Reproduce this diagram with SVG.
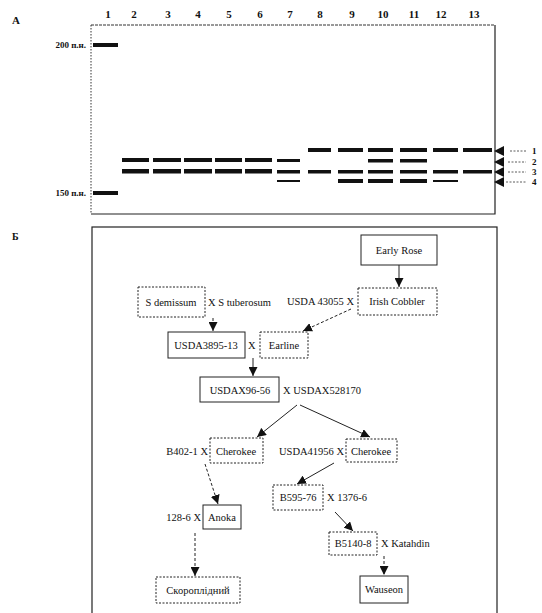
<svg xmlns="http://www.w3.org/2000/svg" width="542" height="613" viewBox="0 0 542 613">
<style>
text{font-family:"Liberation Serif","DejaVu Serif",serif;fill:#111}
.ln{font-size:11px;font-weight:bold;text-anchor:middle}
.mk{font-size:9px;font-weight:bold;text-anchor:end}
.band{fill:#111}
.nb{fill:#fff;stroke:#222;stroke-width:1}
.nd{fill:#fff;stroke:#222;stroke-width:1;stroke-dasharray:2 1.5}
.nt{font-size:10.5px;text-anchor:middle}
.lt{font-size:10.5px}
.c{stroke:#222;stroke-width:1;fill:none}
.cd{stroke:#222;stroke-width:1;fill:none;stroke-dasharray:3 2}
</style>
<defs>
<marker id="ah" viewBox="0 0 10 10" refX="10" refY="5" markerWidth="9" markerHeight="9" markerUnits="userSpaceOnUse" orient="auto">
<path d="M0,0 L10,5 L0,10 z" fill="#111"/>
</marker>
</defs>
<rect width="542" height="613" fill="#fff"/>

<g id="gel">
<text x="12" y="24" style="font-size:11px;font-weight:bold">А</text>
<g class="ln">
<text x="108" y="18" class="ln">1</text><text x="134" y="18" class="ln">2</text><text x="168" y="18" class="ln">3</text>
<text x="198" y="18" class="ln">4</text><text x="229" y="18" class="ln">5</text><text x="260" y="18" class="ln">6</text>
<text x="290" y="18" class="ln">7</text><text x="320" y="18" class="ln">8</text><text x="352" y="18" class="ln">9</text>
<text x="383" y="18" class="ln">10</text><text x="414" y="18" class="ln">11</text><text x="441" y="18" class="ln">12</text>
<text x="474" y="18" class="ln">13</text>
</g>
<path d="M91,25 H495" stroke="#333" stroke-width="1" stroke-dasharray="3 1"/>
<path d="M91,25 V214" stroke="#333" stroke-width="1" stroke-dasharray="1.5 1.5"/>
<path d="M495,25 V214 H91" stroke="#222" stroke-width="1.2" fill="none"/>
<text x="86" y="48" class="mk">200 п.н.</text>
<text x="86" y="196" class="mk">150 п.н.</text>
<rect class="band" x="93" y="43" width="25" height="4"/>
<rect class="band" x="93" y="191" width="25" height="4"/>
<!-- row 1 y=150 -->
<rect class="band" x="308" y="148" width="23" height="4"/>
<rect class="band" x="338" y="148" width="25" height="4"/>
<rect class="band" x="368" y="148" width="25" height="4"/>
<rect class="band" x="400" y="148" width="27" height="4"/>
<rect class="band" x="433" y="148" width="25" height="4"/>
<rect class="band" x="463" y="148" width="29" height="4"/>
<!-- row 2 y=161 -->
<rect class="band" x="122" y="158" width="27" height="4"/>
<rect class="band" x="153" y="158" width="28" height="4"/>
<rect class="band" x="184" y="158" width="28" height="4"/>
<rect class="band" x="215" y="158" width="27" height="4"/>
<rect class="band" x="245" y="158" width="27" height="4"/>
<rect class="band" x="277" y="159" width="23" height="3"/>
<rect class="band" x="368" y="159" width="25" height="3.5"/>
<rect class="band" x="400" y="159" width="27" height="3.5"/>
<!-- row 3 y=171 -->
<rect class="band" x="122" y="169" width="27" height="4.5"/>
<rect class="band" x="153" y="169" width="28" height="4.5"/>
<rect class="band" x="184" y="169" width="28" height="4.5"/>
<rect class="band" x="215" y="169" width="27" height="4.5"/>
<rect class="band" x="245" y="169" width="27" height="4.5"/>
<rect class="band" x="277" y="170" width="23" height="3.5"/>
<rect class="band" x="308" y="170" width="23" height="3.5"/>
<rect class="band" x="338" y="170" width="25" height="3.5"/>
<rect class="band" x="368" y="170" width="25" height="3.5"/>
<rect class="band" x="400" y="170" width="27" height="3.5"/>
<rect class="band" x="433" y="170" width="25" height="3.5"/>
<rect class="band" x="463" y="170" width="29" height="3.5"/>
<!-- row 4 y=181 -->
<rect class="band" x="277" y="180" width="23" height="2"/>
<rect class="band" x="338" y="179" width="25" height="4"/>
<rect class="band" x="368" y="179" width="25" height="4"/>
<rect class="band" x="400" y="179" width="27" height="4"/>
<rect class="band" x="433" y="180" width="25" height="2"/>
<!-- right indicators -->
<g fill="#111">
<path d="M494,151 L504,146 L504,156 z"/>
<path d="M494,162 L504,157 L504,167 z"/>
<path d="M494,172 L504,167 L504,177 z"/>
<path d="M494,182 L504,177 L504,187 z"/>
</g>
<g stroke="#333" stroke-width="0.8" stroke-dasharray="2 1.5">
<path d="M510,151 H526"/><path d="M508,162 H526"/><path d="M508,172 H526"/><path d="M506,182 H526"/>
</g>
<g style="font-size:9px;font-weight:bold">
<text x="532" y="154">1</text><text x="532" y="165">2</text><text x="532" y="175">3</text><text x="532" y="185">4</text>
</g>
</g>

<text x="12" y="240" style="font-size:10px;font-weight:bold">Б</text>
<rect x="92" y="227" width="405" height="400" fill="none" stroke="#222" stroke-width="1.2"/>

<g id="connectors">
<path class="c" d="M399,265 V287" marker-end="url(#ah)"/>
<path class="cd" d="M213,318 V331" marker-end="url(#ah)"/>
<path class="cd" d="M351,309 L303,331" marker-end="url(#ah)"/>
<path class="c" d="M253,358 V376" marker-end="url(#ah)"/>
<path class="c" d="M297,405 L257,437" marker-end="url(#ah)"/>
<path class="c" d="M300,405 L370,437" marker-end="url(#ah)"/>
<path class="cd" d="M205,464 L218,504" marker-end="url(#ah)"/>
<path class="c" d="M334,463 L297,484" marker-end="url(#ah)"/>
<path class="cd" d="M195,533 V576" stroke-dasharray="1.5 1.5" marker-end="url(#ah)"/>
<path class="c" d="M335,512 L353,531" marker-end="url(#ah)"/>
<path class="cd" d="M384,556 V575" marker-end="url(#ah)"/>
</g>

<g id="early-rose"><rect class="nb" x="361" y="235" width="76" height="30"/><text class="nt" x="399" y="254">Early Rose</text></g>
<g id="irish-cobbler"><rect class="nd" x="358" y="288" width="79" height="27"/><text class="nt" x="397" y="305">Irish Cobbler</text><text class="lt" x="354" y="305" text-anchor="end">USDA 43055 X</text></g>
<g id="s-demissum"><rect class="nd" x="138" y="287" width="67" height="30"/><text class="nt" x="171" y="306">S demissum</text><text class="lt" x="208" y="306">X S tuberosum</text></g>
<g id="usda3895"><rect class="nb" x="168" y="332" width="77" height="26"/><text class="nt" x="206" y="349">USDA3895-13</text><text class="lt" x="248" y="349">X</text></g>
<g id="earline"><rect class="nd" x="260" y="332" width="48" height="26"/><text class="nt" x="284" y="349">Earline</text></g>
<g id="usdax96"><rect class="nb" x="200" y="377" width="79" height="25"/><text class="nt" x="240" y="394">USDAX96-56</text><text class="lt" x="283" y="394">X USDAX528170</text></g>
<g id="cherokee-l"><rect class="nd" x="210" y="438" width="53" height="25"/><text class="nt" x="236" y="455">Cherokee</text><text class="lt" x="208" y="455" text-anchor="end">B402-1 X</text></g>
<g id="cherokee-r"><rect class="nd" x="346" y="439" width="51" height="23"/><text class="nt" x="371" y="455">Cherokee</text><text class="lt" x="344" y="455" text-anchor="end">USDA41956 X</text></g>
<g id="anoka"><rect class="nb" x="203" y="505" width="38" height="24"/><text class="nt" x="222" y="521">Anoka</text><text class="lt" x="201" y="521" text-anchor="end">128-6 X</text></g>
<g id="b595"><rect class="nd" x="273" y="485" width="50" height="25"/><text class="nt" x="298" y="501">B595-76</text><text class="lt" x="327" y="501">X 1376-6</text></g>
<g id="b5140"><rect class="nd" x="329" y="532" width="48" height="23"/><text class="nt" x="353" y="547">B5140-8</text><text class="lt" x="381" y="547">X Katahdin</text></g>
<g id="skoroplidny"><rect class="nd" x="156" y="577" width="84" height="26"/><text class="nt" x="198" y="594">Скороплідний</text></g>
<g id="wauseon"><rect class="nb" x="360" y="576" width="48" height="27"/><text class="nt" x="384" y="593">Wauseon</text></g>
</svg>
